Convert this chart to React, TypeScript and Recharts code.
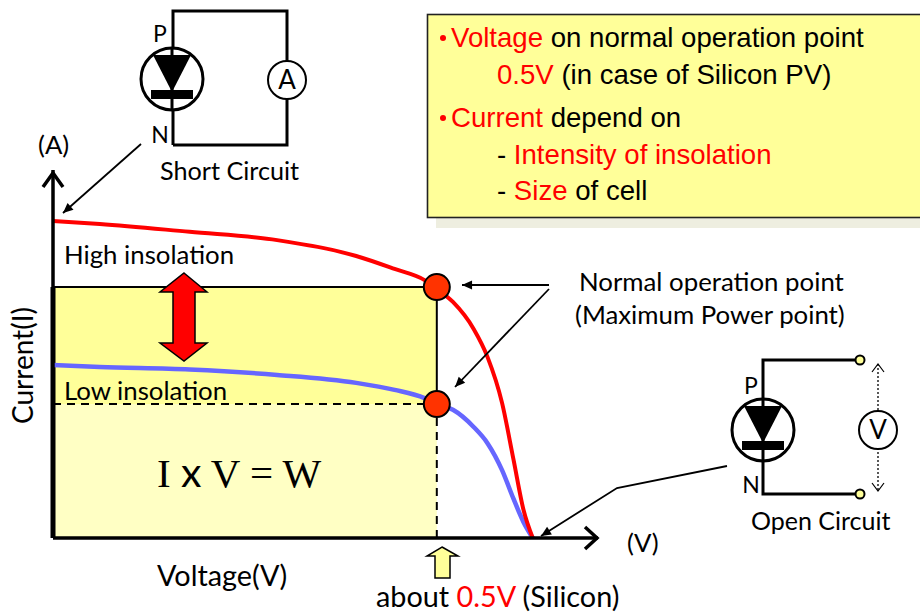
import { ComposedChart, Line, ReferenceArea, ReferenceDot, ReferenceLine, XAxis, YAxis } from "recharts"

// ---------------------------------------------------------------------------
// Data (arbitrary current unit, short circuit high = 1)
// ---------------------------------------------------------------------------

const voltage = [0, 0.061, 0.178, 0.292, 0.395, 0.445, 0.484, 0.5, 0.521, 0.548, 0.566, 0.585, 0.6, 0.613, 0.625]
const highInsolation = [0.999, 0.99, 0.965, 0.939, 0.889, 0.848, 0.813, 0.785, 0.744, 0.659, 0.571, 0.426, 0.246, 0.088, 0]
const lowInsolation = [0.545, 0.539, 0.531, 0.514, 0.489, 0.467, 0.441, 0.422, 0.404, 0.35, 0.299, 0.214, 0.123, 0.05, 0]

const mppVoltage = 0.5
const mppHigh = 0.791
const mppLow = 0.422

const chartData = voltage.map((v, i) => ({ voltage: v, high: highInsolation[i], low: lowInsolation[i] }))

const SANS = "Lato, Carlito, sans-serif"
const ARIAL = "'Liberation Sans', Arial, sans-serif"
const RED = "#FF0000"
const YELLOW = "#FFFF99"

// ---------------------------------------------------------------------------
// Drawing helpers for the annotations around the chart
// ---------------------------------------------------------------------------

function Arrow({ points, head = 11 }: { points: number[][]; head?: number }) {
  const [x2, y2] = points[points.length - 1]
  const [x1, y1] = points[points.length - 2]
  const a = Math.atan2(y2 - y1, x2 - x1)
  const wing = (d: number) => `${x2 - head * Math.cos(a + d)},${y2 - head * Math.sin(a + d)}`
  return (
    <g>
      <polyline points={points.map((p) => p.join(",")).join(" ")} fill="none" stroke="#000" strokeWidth={1.8} />
      <polygon points={`${x2},${y2} ${wing(0.42)} ${wing(-0.42)}`} fill="#000" />
    </g>
  )
}

function Diode({ cx, cy }: { cx: number; cy: number }) {
  return (
    <g>
      <circle cx={cx} cy={cy} r={31} fill="#fff" stroke="#000" strokeWidth={3} />
      <line x1={cx} y1={cy - 31} x2={cx} y2={cy + 31} stroke="#000" strokeWidth={3} />
      <polygon points={`${cx - 19},${cy - 24} ${cx + 19},${cy - 24} ${cx},${cy + 13}`} fill="#000" />
      <rect x={cx - 21} y={cy + 11} width={42} height={9} fill="#000" />
    </g>
  )
}

function Meter({ cx, cy, label }: { cx: number; cy: number; label: string }) {
  return (
    <g>
      <circle cx={cx} cy={cy} r={19} fill="#fff" stroke="#000" strokeWidth={2} />
      <text x={cx} y={cy + 9} textAnchor="middle" fontFamily={SANS} fontSize={26} fill="#000">
        {label}
      </text>
    </g>
  )
}

function Txt({ x, y, size = 25.8, anchor = "start", children }: any) {
  return (
    <text x={x} y={y} fontFamily={SANS} fontSize={size} textAnchor={anchor} fill="#000">
      {children}
    </text>
  )
}

function NoteBox() {
  const line = { fontFamily: ARIAL, fontSize: 27.6, fill: "#000" }
  return (
    <g>
      <rect x={436} y={24} width={490} height={204} fill="#EEEEE0" />
      <rect x={427.5} y={14.5} width={500} height={203} fill={YELLOW} stroke="#222" strokeWidth={1.6} />
      <circle cx={443} cy={38} r={3} fill={RED} />
      <text {...line} x={451} y={47}>
        <tspan fill={RED}>Voltage</tspan> on normal operation point
      </text>
      <text {...line} x={497} y={84}>
        <tspan fill={RED}>0.5V</tspan> (in case of Silicon PV)
      </text>
      <circle cx={443} cy={118} r={3} fill={RED} />
      <text {...line} x={451} y={127}>
        <tspan fill={RED}>Current</tspan> depend on
      </text>
      <text {...line} x={497} y={164}>
        - <tspan fill={RED}>Intensity of insolation</tspan>
      </text>
      <text {...line} x={497} y={200}>
        - <tspan fill={RED}>Size</tspan> of cell
      </text>
    </g>
  )
}

// Sits above the chart svg: Recharts paints reference areas over customized content
function Annotations() {
  return (
    <svg width={920} height={615} style={{ position: "absolute", left: 0, top: 0, pointerEvents: "none" }}>
      {/* axis arrow heads */}
      <polyline points="43,187 53,173 63,187" fill="none" stroke="#000" strokeWidth={3.5} />
      <polyline points="585,527 597,538 585,549" fill="none" stroke="#000" strokeWidth={3.5} />

      {/* short circuit */}
      <polyline points="173,145 173,11 287,11 287,145 173,145" fill="none" stroke="#000" strokeWidth={3} />
      <Diode cx={172} cy={79} />
      <Meter cx={287} cy={80} label="A" />
      <Txt x={160} y={42} size={23} anchor="middle">P</Txt>
      <Txt x={160} y={143} size={23} anchor="middle">N</Txt>
      <Txt x={160} y={180} size={25.2}>Short Circuit</Txt>
      <Arrow points={[[141, 144], [63, 213]]} />
      <Txt x={38} y={154}>(A)</Txt>

      {/* open circuit */}
      <polyline points="860,360 763,360 763,494 860,494" fill="none" stroke="#000" strokeWidth={3} />
      <Diode cx={763} cy={430} />
      <circle cx={860} cy={360} r={4.5} fill={YELLOW} stroke="#000" strokeWidth={2} />
      <circle cx={860} cy={494} r={4.5} fill={YELLOW} stroke="#000" strokeWidth={2} />
      <line x1={878} y1={364} x2={878} y2={491} stroke="#000" strokeWidth={1.3} strokeDasharray="2 2" />
      <polyline points="872,372 878,364 884,372" fill="none" stroke="#000" strokeWidth={1.2} />
      <polyline points="872,483 878,491 884,483" fill="none" stroke="#000" strokeWidth={1.2} />
      <Meter cx={878} cy={430} label="V" />
      <Txt x={751} y={394} size={23} anchor="middle">P</Txt>
      <Txt x={751} y={493} size={23} anchor="middle">N</Txt>
      <Txt x={751} y={530} size={25}>Open Circuit</Txt>
      <Arrow points={[[727, 466], [617, 488], [541, 536]]} />
      <Txt x={627} y={552}>(V)</Txt>

      {/* operation point call-out */}
      <Txt x={579} y={291}>Normal operation point</Txt>
      <Txt x={575} y={324}>(Maximum Power point)</Txt>
      <Arrow points={[[549, 285], [462, 285]]} />
      <Arrow points={[[549, 289], [455, 387]]} />

      {/* insolation labels and arrow */}
      <Txt x={64} y={264}>High insolation</Txt>
      <Txt x={64} y={400}>Low insolation</Txt>
      <polygon
        points="184,273 207,292 195,292 195,343 207,343 184,361 160,343 173,343 173,292 160,292"
        fill={RED}
        stroke="#000"
        strokeWidth={1.5}
      />

      <text x={157} y={487} fontFamily="'Liberation Serif', serif" fontSize={41} fill="#000">
        I <tspan fontFamily={SANS}>x</tspan> V = W
      </text>

      {/* axis titles */}
      <text transform="translate(33,424) rotate(-90)" fontFamily={SANS} fontSize={28} fill="#000">
        Current(I)
      </text>
      <Txt x={157} y={586} size={28.8}>Voltage(V)</Txt>

      {/* 0.5 V pointer */}
      <polygon
        points="442,547 458,556 450,556 450,578 435,578 435,556 427,556"
        fill={YELLOW}
        stroke="#000"
        strokeWidth={1.5}
      />
      <Txt x={376} y={607} size={28.8}>
        about <tspan fill={RED}>0.5V</tspan> (Silicon)
      </Txt>

      <NoteBox />
    </svg>
  )
}

export default function App() {
  return (
    <div style={{ position: "absolute", left: 0, top: 0, width: 920, height: 615, background: "#fff", overflow: "hidden" }}>
      <ComposedChart width={920} height={615} data={chartData} margin={{ top: 170, right: 322, bottom: 0, left: 0 }}>
        <XAxis
          type="number"
          dataKey="voltage"
          domain={[0, 0.71]}
          height={77}
          tick={false}
          tickLine={false}
          axisLine={{ stroke: "#000", strokeWidth: 3.5 }}
        />
        <YAxis
          type="number"
          domain={[0, 1.16]}
          width={53}
          tick={false}
          tickLine={false}
          axisLine={{ stroke: "#000", strokeWidth: 3.5 }}
        />

        {/* P = I x V areas */}
        <ReferenceArea x1={0} x2={mppVoltage} y1={mppLow} y2={mppHigh} fill={YELLOW} fillOpacity={1} stroke="none" />
        <ReferenceArea x1={0} x2={mppVoltage} y1={0} y2={mppLow} fill="#FFFFC4" fillOpacity={1} stroke="none" />
        <ReferenceLine segment={[{ x: 0, y: mppHigh }, { x: mppVoltage, y: mppHigh }]} stroke="#000" strokeWidth={2} />
        <ReferenceLine segment={[{ x: mppVoltage, y: mppLow }, { x: mppVoltage, y: mppHigh }]} stroke="#000" strokeWidth={2} />
        <ReferenceLine segment={[{ x: 0, y: mppLow }, { x: mppVoltage, y: mppLow }]} stroke="#000" strokeWidth={2} strokeDasharray="8 6" />
        <ReferenceLine segment={[{ x: mppVoltage, y: 0 }, { x: mppVoltage, y: mppLow }]} stroke="#000" strokeWidth={2} strokeDasharray="8 6" />
        <ReferenceLine segment={[{ x: 0, y: 0 }, { x: 0, y: mppHigh }]} stroke="#000" strokeWidth={5} />

        <Line dataKey="low" type="monotone" stroke="#6666FF" strokeWidth={4.5} dot={false} isAnimationActive={false} />
        <Line dataKey="high" type="monotone" stroke={RED} strokeWidth={4} dot={false} isAnimationActive={false} />

        <ReferenceDot x={mppVoltage} y={mppHigh} r={13} fill="#FF3300" stroke="#000" strokeWidth={2} />
        <ReferenceDot x={mppVoltage} y={mppLow} r={13} fill="#FF3300" stroke="#000" strokeWidth={2} />
      </ComposedChart>
      <Annotations />
    </div>
  )
}
